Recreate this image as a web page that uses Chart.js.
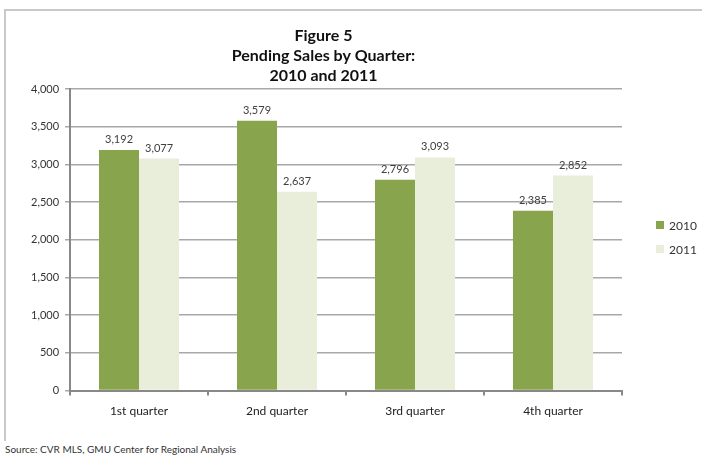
<!DOCTYPE html>
<html>
<head>
<meta charset="utf-8">
<script src="https://cdn.jsdelivr.net/npm/chart.js@4.4.1/dist/chart.umd.min.js"></script>
<style>
  html, body { margin: 0; padding: 0; background: #fff; }
  #wrap { position: relative; width: 702px; height: 457px; font-family: Lato, sans-serif; }
  #frame {
    position: absolute; left: 4px; top: 9px; width: 698px; height: 432px;
    border-top: 2px solid #c9c9c9; border-left: 2px solid #c9c9c9;
    box-sizing: border-box;
  }
  #chart { position: absolute; left: 0; top: 0; }
  #legend { position: absolute; left: 656px; top: 213px; }
  #legend .item { display: flex; align-items: center; height: 24px; font-size: 12px; color: #333; }
  #legend .box { width: 8px; height: 8px; margin-right: 5px; }
  #source {
    position: absolute; left: 5px; top: 443px;
    font-size: 10px; color: #333;
  }
</style>
</head>
<body>
<div id="wrap">
  <div id="frame"></div>
  <canvas id="chart" width="702" height="440"></canvas>
  <div id="legend"></div>
  <div id="source">Source: CVR MLS, GMU Center for Regional Analysis</div>
</div>
<script>
// Pending sales by quarter, 2010 vs 2011
const quarters = ['1st quarter', '2nd quarter', '3rd quarter', '4th quarter'];
const sales2010 = [3192, 3579, 2796, 2385];
const sales2011 = [3077, 2637, 3093, 2852];
const yTicks = [0, 500, 1000, 1500, 2000, 2500, 3000, 3500, 4000];

const FONT = 'Lato, sans-serif';

// writes the value over each bar
const valueLabels = {
    id: 'valueLabels',
    afterDatasetsDraw(chart) {
        const ctx = chart.ctx;
        ctx.save();
        ctx.font = '11px ' + FONT;
        ctx.fillStyle = '#404040';
        ctx.textAlign = 'center';
        ctx.textBaseline = 'bottom';
        chart.data.datasets.forEach((ds, i) => {
            chart.getDatasetMeta(i).data.forEach((bar, j) => {
                ctx.fillText(ds.data[j].toLocaleString('en-US'), bar.x, bar.y - 5);
            });
        });
        ctx.restore();
    }
};

// legend as html, built from the datasets
const htmlLegend = {
    id: 'htmlLegend',
    afterUpdate(chart) {
        const box = document.getElementById('legend');
        box.innerHTML = '';
        chart.data.datasets.forEach(ds => {
            const item = document.createElement('div');
            item.className = 'item';
            const sw = document.createElement('span');
            sw.className = 'box';
            sw.style.background = ds.backgroundColor;
            item.appendChild(sw);
            item.appendChild(document.createTextNode(ds.label));
            box.appendChild(item);
        });
    }
};

new Chart(document.getElementById('chart'), {
    type: 'bar',
    data: {
        labels: quarters,
        datasets: [
            { label: '2010', data: sales2010, backgroundColor: '#88a44c', borderWidth: 0 },
            { label: '2011', data: sales2011, backgroundColor: '#e9eedb', borderWidth: 0 }
        ]
    },
    options: {
        responsive: false,
        animation: false,
        layout: { padding: { top: 26, left: 25, right: 80, bottom: 14 } },
        datasets: { bar: { categoryPercentage: 0.58, barPercentage: 1.0 } },
        plugins: {
            title: {
                display: true,
                text: ['Figure 5', 'Pending Sales by Quarter:', '2010 and 2011'],
                font: { family: FONT, size: 16, weight: 'bold', lineHeight: 1.25 },
                color: '#111',
                padding: { top: 0, bottom: 3 }
            },
            legend: { display: false },
            tooltip: { enabled: false }
        },
        scales: {
            x: {
                grid: { offset: true, drawOnChartArea: false, drawTicks: true, tickLength: 5, color: '#888', lineWidth: 2 },
                border: { color: '#888', width: 2 },
                ticks: { font: { family: FONT, size: 12 }, color: '#222', padding: 8 }
            },
            y: {
                min: 0, max: 4000,
                afterBuildTicks(axis) { axis.ticks = yTicks.map(v => ({ value: v })); },
                grid: { color: '#a8a8a8', lineWidth: 1.5, tickLength: 5 },
                border: { color: '#888', width: 2 },
                ticks: {
                    font: { family: FONT, size: 11 }, color: '#333', padding: 6,
                    callback: v => v.toLocaleString('en-US')
                }
            }
        }
    },
    plugins: [valueLabels, htmlLegend]
});
</script>
</body>
</html>
